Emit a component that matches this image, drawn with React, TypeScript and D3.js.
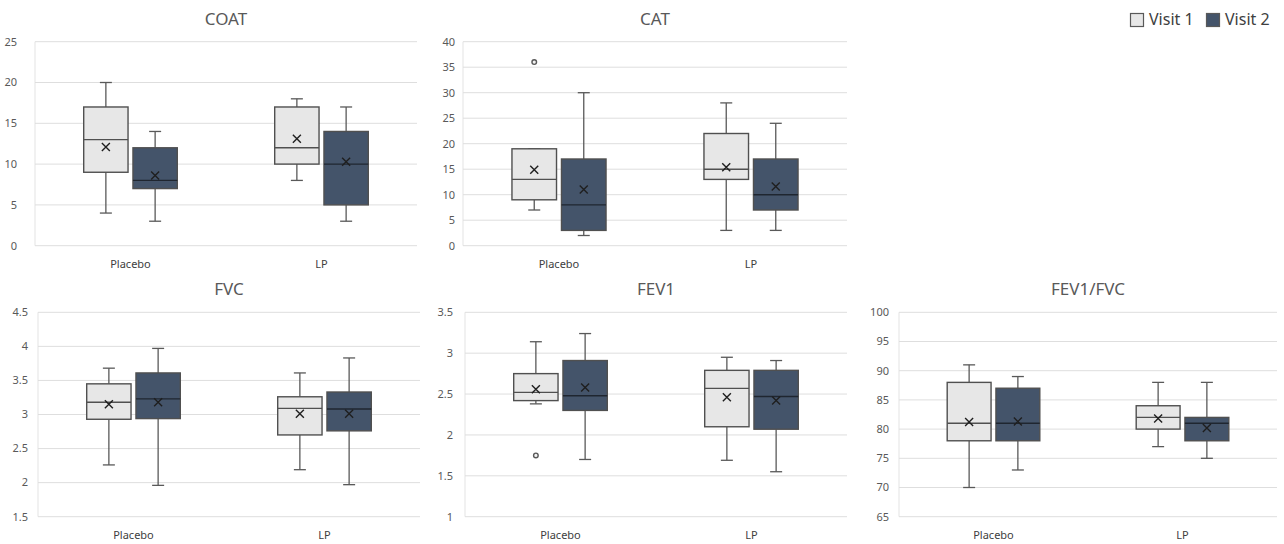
import React from 'react'
import * as d3 from 'd3'

// categories and series
const groups = ['Placebo', 'LP']
const visits = ['Visit 1', 'Visit 2']

// five-number summaries [min, q1, median, q3, max] per group, then means and outliers
const coatV1 = [[4, 9, 13, 17, 20], [8, 10, 12, 17, 18]]
const coatV2 = [[3, 7, 8, 12, 14], [3, 5, 10, 14, 17]]
const coatMean = [[12.1, 13.1], [8.6, 10.3]]
const coatOut = [[[], []], [[], []]]

const catV1 = [[7, 9, 13, 19, 19], [3, 13, 15, 22, 28]]
const catV2 = [[2, 3, 8, 17, 30], [3, 7, 10, 17, 24]]
const catMean = [[14.9, 15.4], [11.0, 11.6]]
const catOut = [[[36], []], [[], []]]

const fvcV1 = [[2.26, 2.93, 3.18, 3.45, 3.68], [2.19, 2.7, 3.09, 3.26, 3.61]]
const fvcV2 = [[1.96, 2.94, 3.23, 3.61, 3.97], [1.97, 2.76, 3.08, 3.33, 3.83]]
const fvcMean = [[3.15, 3.01], [3.18, 3.01]]
const fvcOut = [[[], []], [[], []]]

const fev1V1 = [[2.38, 2.42, 2.52, 2.75, 3.14], [1.69, 2.1, 2.57, 2.79, 2.95]]
const fev1V2 = [[1.7, 2.3, 2.48, 2.91, 3.24], [1.55, 2.07, 2.47, 2.79, 2.91]]
const fev1Mean = [[2.56, 2.46], [2.58, 2.42]]
const fev1Out = [[[1.75], []], [[], []]]

const ratioV1 = [[70, 78, 81, 88, 91], [77, 80, 82, 84, 88]]
const ratioV2 = [[73, 78, 81, 87, 89], [75, 78, 81, 82, 88]]
const ratioMean = [[81.2, 81.8], [81.3, 80.2]]
const ratioOut = [[[], []], [[], []]]

// y axis ticks
const coatTicks = [0, 5, 10, 15, 20, 25]
const catTicks = [0, 5, 10, 15, 20, 25, 30, 35, 40]
const fvcTicks = [1.5, 2, 2.5, 3, 3.5, 4, 4.5]
const fev1Ticks = [1, 1.5, 2, 2.5, 3, 3.5]
const ratioTicks = [65, 70, 75, 80, 85, 90, 95, 100]

const panels = [
  { title: 'COAT', ticks: coatTicks, v1: coatV1, v2: coatV2, mean: coatMean, out: coatOut, x0: 35, x1: 417, y0: 41.7, y1: 245.7, labelX: 17 },
  { title: 'CAT', ticks: catTicks, v1: catV1, v2: catV2, mean: catMean, out: catOut, x0: 463, x1: 847, y0: 41.7, y1: 245.7, labelX: 455 },
  { title: 'FVC', ticks: fvcTicks, v1: fvcV1, v2: fvcV2, mean: fvcMean, out: fvcOut, x0: 38, x1: 420, y0: 312.3, y1: 516.7, labelX: 28 },
  { title: 'FEV1', ticks: fev1Ticks, v1: fev1V1, v2: fev1V2, mean: fev1Mean, out: fev1Out, x0: 465, x1: 847, y0: 312.3, y1: 516.7, labelX: 453 },
  { title: 'FEV1/FVC', ticks: ratioTicks, v1: ratioV1, v2: ratioV2, mean: ratioMean, out: ratioOut, x0: 899, x1: 1277, y0: 312.3, y1: 516.7, labelX: 889 },
]

const fills = ['#e7e7e7', '#44546a']
const font = '"Noto Sans", "Open Sans", sans-serif'

const Panel = ({ p }) => {
  const y = d3.scaleLinear().domain(d3.extent(p.ticks)).range([p.y1, p.y0])
  const x = d3.scaleBand().domain(groups).range([p.x0, p.x1]).paddingInner(0.51).paddingOuter(0.255)
  const xv = d3.scaleBand().domain(visits).range([0, x.bandwidth()]).paddingInner(0.1)
  const series = [p.v1, p.v2]
  const cap = 6
  return (
    <g>
      <text x={(p.x0 + p.x1) / 2} y={p.y0 - 17} textAnchor="middle" fontSize={17} fill="#595959" fontFamily={font}>{p.title}</text>
      <line x1={p.x0} x2={p.x0} y1={p.y0} y2={p.y1} stroke="#e3e3e3" />
      {p.ticks.map(t => (
        <g key={t}>
          <line x1={p.x0} x2={p.x1} y1={y(t)} y2={y(t)} stroke="#dedede" />
          <text x={p.labelX} y={y(t)} dy="0.35em" textAnchor="end" fontSize={11} fill="#595959" fontFamily={font}>{t}</text>
        </g>
      ))}
      {groups.map(g => (
        <text key={g} x={x(g) + x.bandwidth() / 2} y={p.y1 + 22} textAnchor="middle" fontSize={11} fill="#404040" fontFamily={font}>{g}</text>
      ))}
      {visits.map((v, vi) => groups.map((g, gi) => {
        const [mn, q1, md, q3, mx] = series[vi][gi]
        const bx = x(g) + xv(v)
        const bw = xv.bandwidth()
        const cx = bx + bw / 2
        const m = p.mean[vi][gi]
        return (
          <g key={v + g}>
            <line x1={cx} x2={cx} y1={y(mx)} y2={y(q3)} stroke="#595959" strokeWidth={1.3} />
            <line x1={cx} x2={cx} y1={y(q1)} y2={y(mn)} stroke="#595959" strokeWidth={1.3} />
            <line x1={cx - cap} x2={cx + cap} y1={y(mx)} y2={y(mx)} stroke="#595959" strokeWidth={1.3} />
            <line x1={cx - cap} x2={cx + cap} y1={y(mn)} y2={y(mn)} stroke="#595959" strokeWidth={1.3} />
            <rect x={bx} y={y(q3)} width={bw} height={y(q1) - y(q3)} fill={fills[vi]} stroke="#505050" strokeWidth={1.4} />
            <line x1={bx} x2={bx + bw} y1={y(md)} y2={y(md)} stroke={vi ? '#1f2630' : '#505050'} strokeWidth={1.4} />
            <path d={`M${cx - 4},${y(m) - 4}L${cx + 4},${y(m) + 4}M${cx - 4},${y(m) + 4}L${cx + 4},${y(m) - 4}`} stroke="#1f1f1f" strokeWidth={1.4} />
            {p.out[vi][gi].map((o, oi) => (
              <circle key={oi} cx={cx} cy={y(o)} r={2.3} fill="#f2f2f2" stroke="#595959" strokeWidth={1.4} />
            ))}
          </g>
        )
      }))}
    </g>
  )
}

export default function App() {
  return (
    <div style={{ position: 'absolute', left: 0, top: 0 }}>
      <svg width={1284} height={544} style={{ display: 'block', background: '#fff' }}>
        {panels.map(p => <Panel key={p.title} p={p} />)}
        {visits.map((v, i) => (
          <g key={v} transform={`translate(${1130 + i * 76},13)`}>
            <rect x={0.5} y={0.5} width={13} height={13} fill={fills[i]} stroke="#595959" strokeWidth={1.2} />
            <text x={19} y={12} fontSize={16} fill="#404040" fontFamily={font}>{v}</text>
          </g>
        ))}
      </svg>
    </div>
  )
}
